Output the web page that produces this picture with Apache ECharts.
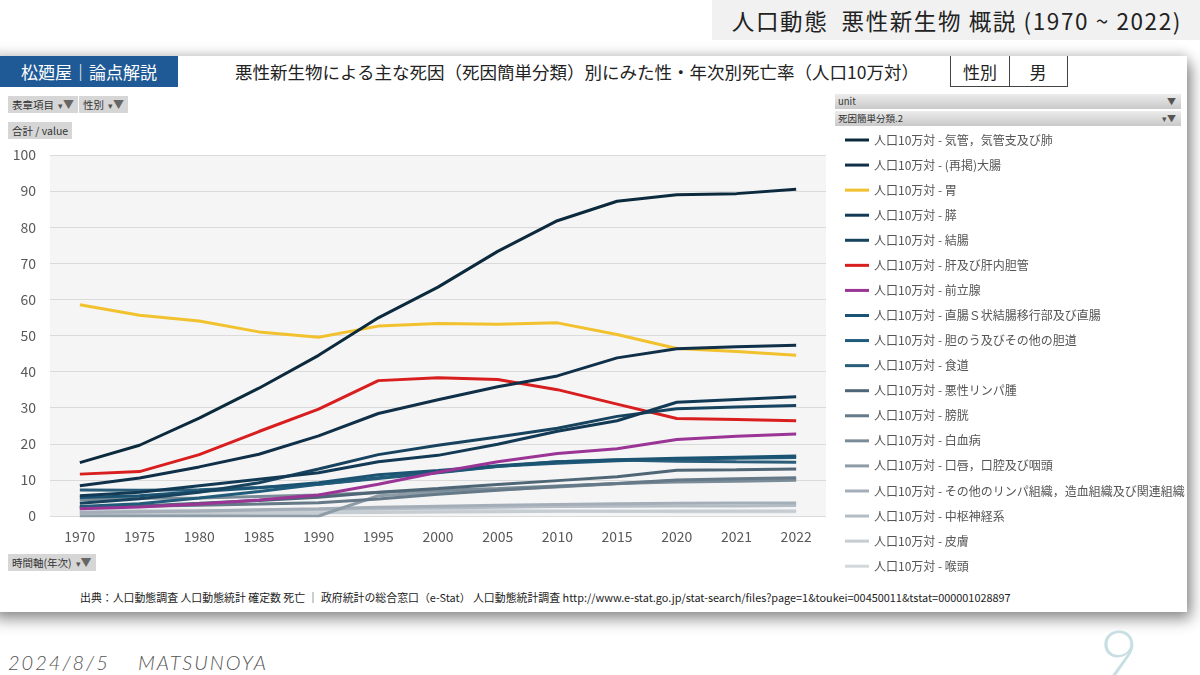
<!DOCTYPE html>
<html>
<head>
<meta charset="utf-8">
<script src="https://cdn.jsdelivr.net/npm/echarts@6/dist/echarts.min.js"></script>
<style>
  html, body { margin: 0; padding: 0; background: #ffffff; }
  body { width: 1200px; height: 675px; position: relative; overflow: hidden;
         font-family: "Noto Sans CJK JP", "Noto Sans", sans-serif; }
  .abs { position: absolute; }
  #header { left: 712px; top: 0; width: 488px; height: 40px; background: #f1f1f1;
            font-size: 22.5px; letter-spacing: 1.6px; color: #222; line-height: 40px; text-align: right;
            padding-right: 18px; box-sizing: border-box; white-space: nowrap; }
  #card { left: -10px; top: 56px; width: 1197px; height: 556px; background: #fff;
          box-shadow: 4px 7px 14px rgba(0,0,0,0.45), 0 -4px 10px rgba(0,0,0,0.12); }
  #brand { left: 0; top: 56px; width: 178px; height: 31px; background: #1f5a96; color: #fff;
           font-size: 17px; line-height: 31px; text-align: center; }
  #title { left: 180px; top: 58px; width: 794px; text-align: center; font-size: 17.5px; color: #222; line-height: 28px; }
  #sexbox { left: 950px; top: 56px; width: 118px; height: 31px; border: 1px solid #444; border-top: none;
            box-sizing: border-box; font-size: 17px; color: #222; }
  #sexbox span { position: absolute; top: 0; line-height: 31px; text-align: center; }
  .btn { background: #d6d6d6; font-size: 10.5px; color: #333; height: 17px; line-height: 17px;
         padding: 0 4px; box-sizing: border-box; white-space: nowrap; }
  .btn b { font-weight: normal; color: #555; font-size: 9px; margin-left: 4px; }
  .btn i { font-style: normal; color: #666; font-size: 11px; }
  .bar { left: 835px; width: 346px; height: 15px; font-size: 9.5px; color: #333; line-height: 15px;
         padding-left: 3px; box-sizing: border-box;
         background: linear-gradient(#ececec, #c9c9c9); }
  .bar span { position: absolute; right: 5px; top: 0; color: #555; font-size: 9px; }
  #source { left: 80px; top: 589px; font-size: 10.9px; color: #222; white-space: nowrap; }
  #date { left: 8px; top: 650px; font-family: Lato, "DejaVu Sans", sans-serif; font-weight: 300;
          font-size: 20px; color: #555; letter-spacing: 2px; font-style: italic; }
  #pageno { left: 1100px; top: 612px; font-family: Lato, sans-serif; font-weight: 300;
            font-size: 66px; color: #c7dfe2; }
  #chart { left: 0; top: 0; width: 1200px; height: 675px; }
</style>
</head>
<body>
<div id="header" class="abs">人口動態&nbsp;&nbsp;悪性新生物 概説 (1970 ~ 2022)</div>
<div id="card" class="abs"></div>
<div id="brand" class="abs">松廼屋｜論点解説</div>
<div id="title" class="abs">悪性新生物による主な死因（死因簡単分類）別にみた性・年次別死亡率（人口10万対）</div>
<div id="sexbox" class="abs">
  <span style="left:0;width:58px;border-right:1px solid #444;">性別</span>
  <span style="left:58px;width:58px;">男</span>
</div>
<div class="abs btn" style="left:8px;top:96px;">表章項目<b>▾</b><i>▼</i></div>
<div class="abs btn" style="left:79px;top:96px;">性別<b>▾</b><i>▼</i></div>
<div class="abs btn" style="left:8px;top:122px;">合計 / value</div>
<div class="abs bar" style="top:94px;">unit<span>▼</span></div>
<div class="abs bar" style="top:111px;">死因簡単分類.2<span>▾▼</span></div>
<div class="abs btn" style="left:8px;top:554px;">時間軸(年次)<b>▾</b><i>▼</i></div>
<div id="source" class="abs">出典：人口動態調査 人口動態統計 確定数 死亡 ｜ 政府統計の総合窓口（e-Stat） 人口動態統計調査 http://www.e-stat.go.jp/stat-search/files?page=1&amp;toukei=00450011&amp;tstat=000001028897</div>
<div id="date" class="abs">2024/8/5&nbsp;&nbsp;&nbsp;&nbsp;MATSUNOYA</div>
<div id="pageno" class="abs">9</div>
<div id="chart" class="abs"></div>
<script>
// 年次
var years = ['1970', '1975', '1980', '1985', '1990', '1995', '2000', '2005', '2010', '2015', '2020', '2021', '2022'];
var yTicks = [0, 10, 20, 30, 40, 50, 60, 70, 80, 90, 100];

// 死亡率（人口10万対）男
var lung       = [14.8, 19.6, 27.1, 35.4, 44.5, 54.9, 63.4, 73.3, 81.8, 87.2, 89.0, 89.3, 90.5];
var colorectal = [8.4, 10.5, 13.6, 17.1, 22.2, 28.4, 32.2, 35.8, 38.8, 43.8, 46.3, 46.9, 47.3];
var stomach    = [58.5, 55.6, 54.0, 51.0, 49.5, 52.6, 53.3, 53.1, 53.5, 50.3, 46.4, 45.6, 44.5];
var pancreas   = [5.6, 6.6, 8.4, 10.2, 12.0, 15.0, 16.8, 19.9, 23.5, 26.4, 31.5, 32.3, 33.0];
var colon      = [3.5, 4.8, 6.6, 9.2, 13.0, 17.0, 19.6, 21.9, 24.3, 27.6, 29.7, 30.2, 30.6];
var liver      = [11.6, 12.3, 17.0, 23.4, 29.6, 37.5, 38.3, 37.8, 35.0, 31.0, 27.0, 26.7, 26.4];
var prostate   = [2.0, 2.5, 3.3, 4.4, 5.8, 8.8, 12.1, 15.0, 17.3, 18.6, 21.2, 22.1, 22.7];
var rectum     = [5.1, 5.6, 6.8, 7.8, 9.2, 11.4, 12.6, 13.9, 15.0, 15.6, 16.0, 16.3, 16.6];
var biliary    = [2.6, 3.4, 5.0, 6.8, 8.8, 10.6, 12.1, 13.8, 14.6, 15.3, 15.8, 16.0, 16.2];
var esophagus  = [7.2, 7.1, 7.3, 7.9, 8.8, 10.4, 12.0, 13.7, 15.0, 15.5, 15.2, 15.0, 14.9];
var lymphoma   = [2.2, 2.8, 3.5, 4.3, 5.2, 6.6, 7.6, 8.7, 9.8, 10.9, 12.7, 12.8, 13.0];
var bladder    = [2.4, 2.7, 3.0, 3.3, 3.7, 4.7, 6.0, 7.1, 8.2, 9.0, 10.0, 10.3, 10.6];
var leukemia   = [4.5, 4.9, 5.0, 5.4, 5.8, 6.5, 7.1, 7.6, 8.3, 9.0, 9.4, 9.6, 9.9];
var oral       = [0, 0, 0, 0, 0, 5.6, 6.5, 7.3, 8.0, 8.9, 9.8, 10.0, 10.2];
var otherLymph = [1.0, 1.2, 1.4, 1.7, 2.0, 2.4, 2.7, 3.0, 3.2, 3.4, 3.5, 3.6, 3.6];
var cns        = [1.0, 1.2, 1.4, 1.6, 1.8, 2.0, 2.2, 2.4, 2.6, 2.7, 2.8, 2.8, 2.9];
var skin       = [0.6, 0.6, 0.7, 0.8, 0.9, 1.0, 1.1, 1.2, 1.3, 1.3, 1.4, 1.4, 1.4];
var larynx     = [1.6, 1.6, 1.6, 1.6, 1.6, 1.7, 1.6, 1.5, 1.4, 1.3, 1.2, 1.2, 1.2];

var causes = ['気管，気管支及び肺', '(再掲)大腸', '胃', '膵', '結腸', '肝及び肝内胆管', '前立腺',
  '直腸Ｓ状結腸移行部及び直腸', '胆のう及びその他の胆道', '食道', '悪性リンパ腫', '膀胱', '白血病',
  '口唇，口腔及び咽頭', 'その他のリンパ組織，造血組織及び関連組織', '中枢神経系', '皮膚', '喉頭'];
var values = [lung, colorectal, stomach, pancreas, colon, liver, prostate, rectum, biliary, esophagus,
  lymphoma, bladder, leukemia, oral, otherLymph, cns, skin, larynx];
var colors = ['#0c2a3d', '#0f3048', '#f2c12e', '#133a55', '#17435f', '#d81e1e', '#9a3596',
  '#1b5473', '#215b7a', '#2a5d79', '#4f6676', '#657988', '#7b8c99', '#8e9ca8',
  '#a3aeb8', '#b4bdc5', '#c5ccd2', '#d3d8dd'];

var chart = echarts.init(document.getElementById('chart'), null, { renderer: 'canvas' });

var series = causes.map(function (c, i) {
  return {
    name: '人口10万対 - ' + c,
    type: 'line',
    data: values[i],
    symbol: 'none',
    z: 20 - i,
    lineStyle: { width: 3, color: colors[i] },
    itemStyle: { color: colors[i] }
  };
});

var option = {
  animation: false,
  textStyle: { fontFamily: '"Noto Sans CJK JP", "Noto Sans", sans-serif' },
  grid: {
    left: 50, right: 374, top: 155, bottom: 159,
    show: true, backgroundColor: '#f5f5f5', borderWidth: 0
  },
  legend: {
    orient: 'vertical',
    left: 840, top: 129,
    icon: 'rect',
    itemWidth: 24, itemHeight: 3, itemGap: 13.07,
    textStyle: { fontSize: 12, color: '#555' },
    data: series.map(function (s) { return s.name; })
  },
  xAxis: {
    type: 'category',
    data: years,
    boundaryGap: true,
    axisLine: { show: false },
    axisTick: { show: false },
    axisLabel: { color: '#595959', fontSize: 14, margin: 14 }
  },
  yAxis: {
    type: 'value',
    min: yTicks[0], max: yTicks[yTicks.length - 1], interval: 10,
    axisLine: { show: false },
    axisTick: { show: false },
    axisLabel: { color: '#595959', fontSize: 14, margin: 14 },
    splitLine: { lineStyle: { color: '#dadada', width: 1 } }
  },
  series: series
};

chart.setOption(option);
</script>
</body>
</html>
